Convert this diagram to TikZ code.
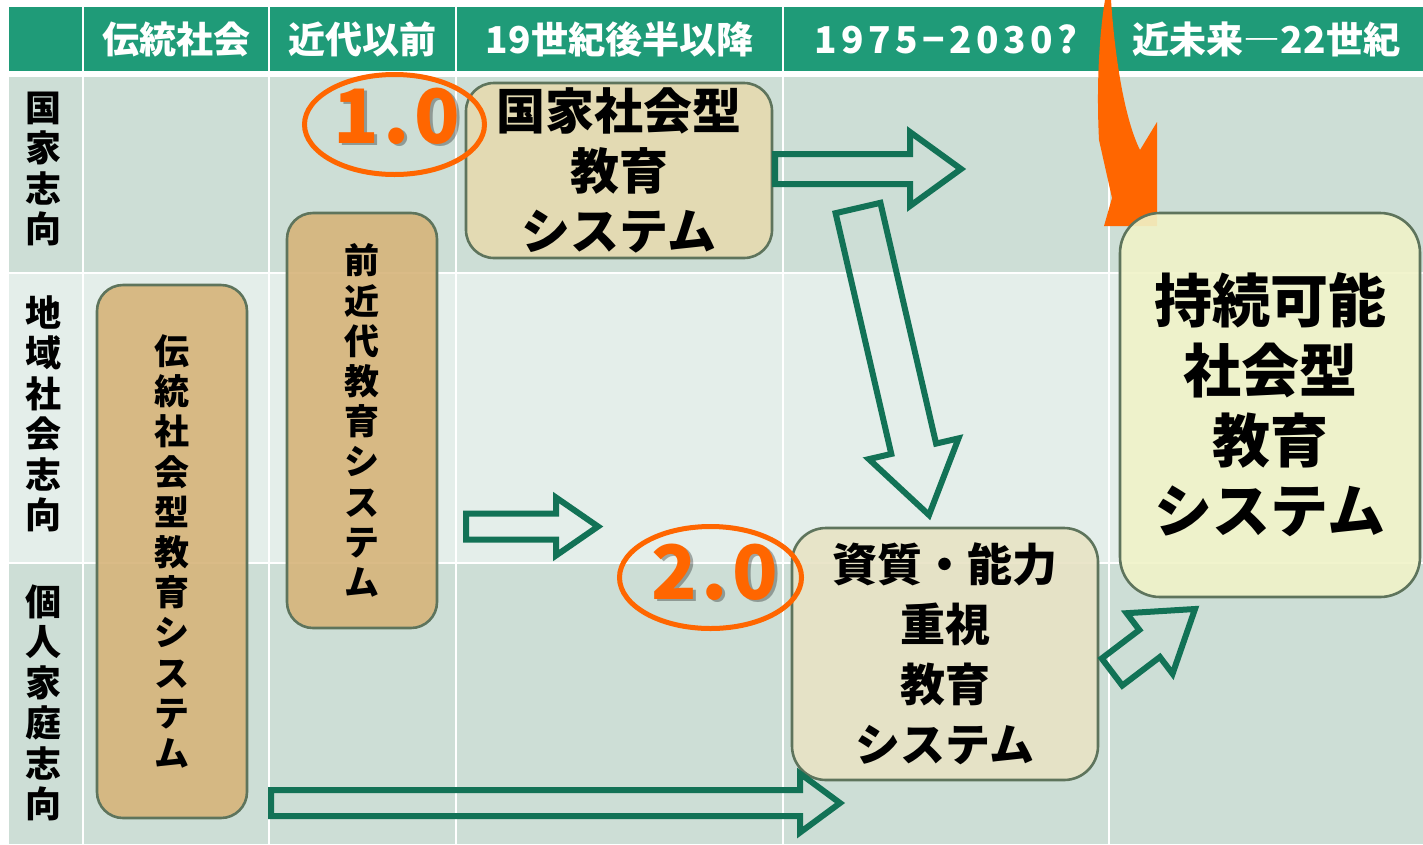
\documentclass[tikz,border=0pt]{standalone}
\usepackage{fontspec}
\setmainfont{Noto Sans CJK JP}
\usetikzlibrary{calc,shapes.geometric}
\definecolor{hdr}{HTML}{1F9B78}
\definecolor{rowA}{HTML}{CDDED6}
\definecolor{rowB}{HTML}{E4EEEA}
\definecolor{arr}{HTML}{127256}
\definecolor{org}{HTML}{FF6600}
\definecolor{tanL}{HTML}{E6DAB0}
\definecolor{tanD}{HTML}{D6B47A}
\definecolor{creamA}{HTML}{E8E3C5}
\definecolor{creamB}{HTML}{F0F3C8}
\definecolor{bord}{HTML}{5E745C}
% start, end, shaft half width, head half width, head length
\newcommand\blockarrow[5]{%
  \coordinate (ba-hb) at ($#2!#5!#1$);
  \draw[blockarr] ($#1!#3!90:#2$) -- ($(ba-hb)!#3!-90:#1$) -- ($(ba-hb)!#4!-90:#1$) -- #2
    -- ($(ba-hb)!#4!90:#1$) -- ($(ba-hb)!#3!90:#1$) -- ($#1!#3!-90:#2$) -- cycle;}
\begin{document}
\begin{tikzpicture}[x=1pt,y=-1pt,
  hdrcell/.style={fill=hdr, text=white, inner sep=0pt, minimum height=64pt,
    font=\bfseries\fontsize{37}{40}\selectfont},
  rowlab/.style={align=center, inner sep=0pt, font=\bfseries\fontsize{36}{40.5}\selectfont},
  sysbox/.style={draw=bord, line width=2.6pt, fill opacity=0.9, text opacity=1,
    inner sep=0pt, align=center},
  vertxt/.style={font=\bfseries\fontsize{35}{40.2}\selectfont},
  blockarr/.style={draw=arr, line width=6pt, line join=miter},
  ring/.style={draw=org, line width=5pt, ellipse, inner sep=0pt},
  vernum/.style={text=org, inner sep=0pt, font=\bfseries\fontsize{75}{75}\selectfont\addfontfeatures{LetterSpace=6}},
  vershadow/.style={text=black, text opacity=0.3, inner sep=0pt, font=\bfseries\fontsize{75}{75}\selectfont\addfontfeatures{LetterSpace=6}},
]
\useasboundingbox (0,0) rectangle (1423,844);
\fill[white] (0,0) rectangle (1423,844);
% header row
\node[hdrcell, minimum width=73pt]  (h0) at (45.5,39) {};
\node[hdrcell, minimum width=184pt] (h1) at (176,39) {伝統社会};
\node[hdrcell, minimum width=185pt] (h2) at (362.5,39) {近代以前};
\node[hdrcell, minimum width=325pt] (h3) at (619.5,39) {19世紀後半以降};
\node[hdrcell, minimum width=324pt] (h4) at (946,39) {\addfontfeatures{LetterSpace=12}1975−2030?};
\node[hdrcell, minimum width=313pt] (h5) at (1266.5,39) {近未来―22世紀};
% body cells
\foreach \xa/\xb in {9/82,84/268,270/455,457/782,784/1108,1110/1423}{
  \fill[rowA] (\xa,77) rectangle (\xb,272);
  \fill[rowB] (\xa,274) rectangle (\xb,562);
  \fill[rowA] (\xa,564) rectangle (\xb,844);
}
% row labels
\node[rowlab] (r1) at (43,169) {国\\家\\志\\向};
\node[rowlab] (r2) at (43,414) {地\\域\\社\\会\\志\\向};
\node[rowlab] (r3) at (43,703) {個\\人\\家\\庭\\志\\向};
% orange arrow
\fill[org] (1105,0) -- (1111,0) .. controls (1115,60) and (1125,120) .. (1140,150)
  -- (1157,122) -- (1157,226) -- (1104,226) -- (1112,198) -- (1099,140)
  .. controls (1096,80) and (1100,30) .. (1105,0) -- cycle;
% boxes
\node[sysbox, fill=tanL, minimum width=306pt, minimum height=175pt, rounded corners=28pt,
  font=\bfseries\fontsize{49}{60}\selectfont] (b1) at (619,170.5) {国家社会型\\教育\\システム};
\node[sysbox, vertxt, fill=tanD, minimum width=150pt, minimum height=415pt, rounded corners=26pt]
  (b2) at (362,420.5) {前\\近\\代\\教\\育\\シ\\ス\\テ\\ム};
\node[sysbox, vertxt, fill=tanD, minimum width=150pt, minimum height=533pt, rounded corners=26pt]
  (b3) at (172,551.5) {伝\\統\\社\\会\\型\\教\\育\\シ\\ス\\テ\\ム};
\node[sysbox, fill=creamA, minimum width=306pt, minimum height=252pt, rounded corners=34pt,
  font=\bfseries\fontsize{45}{60}\selectfont] (b4) at (945,654) {資質・能力\\重視\\教育\\システム};
\node[sysbox, fill=creamB, minimum width=300pt, minimum height=384pt, rounded corners=40pt,
  font=\bfseries\fontsize{58}{70}\selectfont] (b5) at (1270,405) {持続可能\\社会型\\教育\\システム};
% green block arrows
\coordinate (a1s) at (775,169);   \coordinate (a1e) at (961,169);
\coordinate (a2s) at (858,208);   \coordinate (a2e) at (929,515);
\coordinate (a3s) at (466,526.5); \coordinate (a3e) at (598,526.5);
\coordinate (a4s) at (271,803);   \coordinate (a4e) at (840,803);
\coordinate (a5s) at (1112,672);  \coordinate (a5e) at (1195,609);
\blockarrow{(a1s)}{(a1e)}{15pt}{37pt}{51pt}
\blockarrow{(a2s)}{(a2e)}{23pt}{46pt}{68pt}
\blockarrow{(a3s)}{(a3e)}{13pt}{29pt}{42pt}
\blockarrow{(a4s)}{(a4e)}{13pt}{29.5pt}{40pt}
\blockarrow{(a5s)}{(a5e)}{17pt}{38pt}{57pt}
% version rings
\node[vershadow] at (399.5,118.5) {1.0};
\node[vernum] (v1) at (397,116) {1.0};
\node[ring, minimum width=180pt, minimum height=100pt] (e1) at (394.5,124.5) {};
\node[vershadow] at (717.5,574.5) {2.0};
\node[vernum] (v2) at (715,572) {2.0};
\node[ring, minimum width=182pt, minimum height=102pt] (e2) at (710.5,577.5) {};
\end{tikzpicture}
\end{document}
